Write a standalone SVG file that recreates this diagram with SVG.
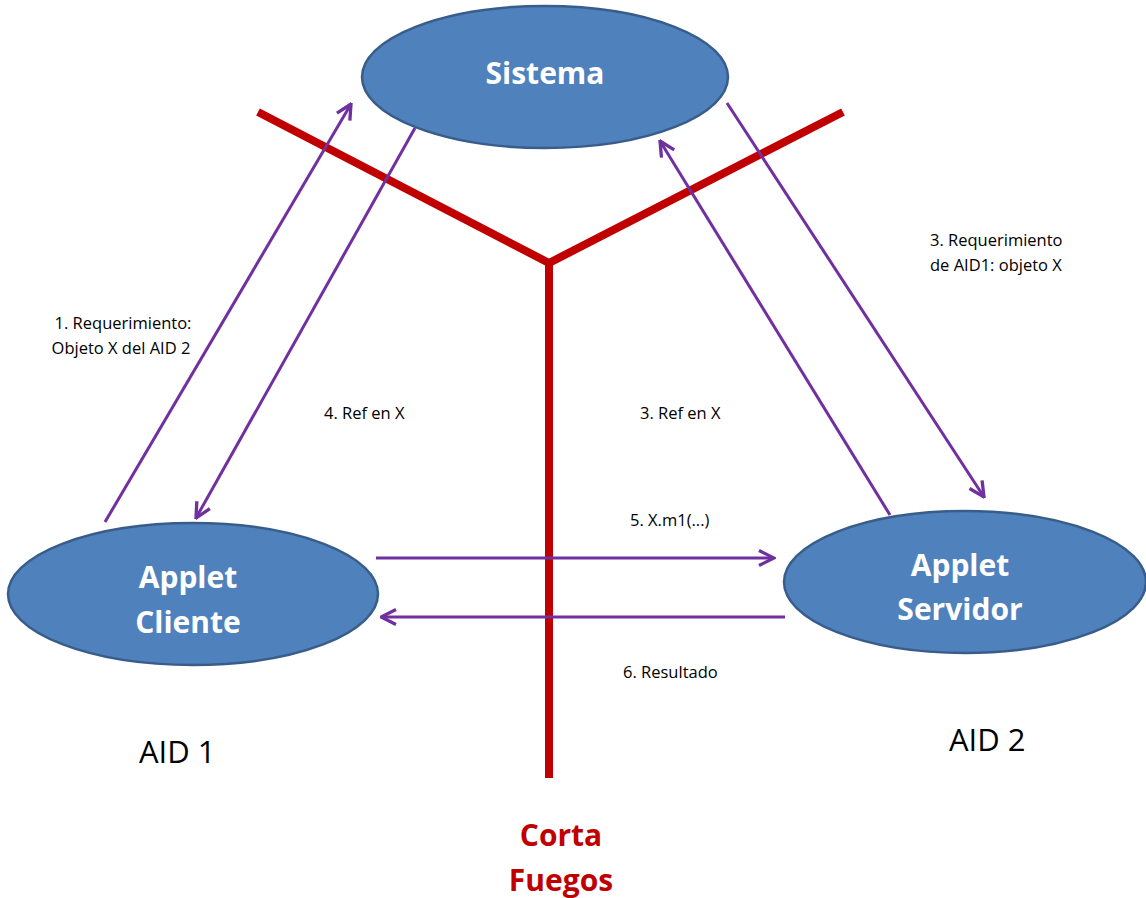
<svg xmlns="http://www.w3.org/2000/svg" width="1146" height="898" viewBox="0 0 1146 898">
  <style>
    .node { fill: #4F81BD; stroke: #385D8A; stroke-width: 2.5; }
    .ntext { font-family: "Open Sans", "Liberation Sans", sans-serif; font-weight: bold; font-size: 30px; fill: #ffffff; text-anchor: middle; }
    .wall { stroke: #C00000; stroke-width: 8; fill: none; }
    .wtext { font-family: "Open Sans", "Liberation Sans", sans-serif; font-weight: bold; font-size: 30px; fill: #C00000; text-anchor: middle; }
    .flow { stroke: #7030A0; stroke-width: 3; fill: none; }
    .label { font-family: "Open Sans", "Liberation Sans", sans-serif; font-size: 16.5px; fill: #000000; }
    .aid { font-family: "Open Sans", "Liberation Sans", sans-serif; font-size: 31px; fill: #000000; }
  </style>
  <defs>
    <marker id="open-arrow" viewBox="0 0 12 12" refX="11" refY="6" markerWidth="6" markerHeight="6" markerUnits="strokeWidth" orient="auto">
      <polyline points="1,1 11,6 1,11" fill="none" stroke="#7030A0" stroke-width="2.2" stroke-linejoin="miter" stroke-linecap="butt"/>
    </marker>
  </defs>

  <rect width="1146" height="898" fill="#ffffff"/>

  <!-- firewall -->
  <g id="firewall">
    <polyline class="wall" points="258,112 549,263 843,112"/>
    <line class="wall" x1="549" y1="263" x2="549" y2="778"/>
    <text class="wtext" x="561" y="846">Corta</text>
    <text class="wtext" x="561" y="891">Fuegos</text>
  </g>

  <!-- connectors -->
  <g id="connectors">
    <line class="flow" x1="105" y1="522" x2="351" y2="104" marker-end="url(#open-arrow)"/>
    <line class="flow" x1="415" y1="128" x2="196" y2="518" marker-end="url(#open-arrow)"/>
    <line class="flow" x1="890" y1="515" x2="660" y2="141" marker-end="url(#open-arrow)"/>
    <line class="flow" x1="727" y1="103" x2="984" y2="497" marker-end="url(#open-arrow)"/>
    <line class="flow" x1="376" y1="558" x2="774" y2="558" marker-end="url(#open-arrow)"/>
    <line class="flow" x1="785" y1="617" x2="381" y2="617" marker-end="url(#open-arrow)"/>

    <text class="label" x="123" y="329" text-anchor="middle">1. Requerimiento:</text>
    <text class="label" x="121" y="354" text-anchor="middle">Objeto X del AID 2</text>
    <text class="label" x="324" y="419">4. Ref en X</text>
    <text class="label" x="640" y="419">3. Ref en X</text>
    <text class="label" x="630" y="526">5. X.m1(...)</text>
    <text class="label" x="930" y="246">3. Requerimiento</text>
    <text class="label" x="930" y="271">de AID1: objeto X</text>
    <text class="label" x="623" y="678">6. Resultado</text>
  </g>

  <!-- nodes -->
  <g id="sistema">
    <ellipse class="node" cx="545" cy="77" rx="183" ry="71"/>
    <text class="ntext" x="545" y="84">Sistema</text>
  </g>
  <g id="applet-cliente">
    <ellipse class="node" cx="193" cy="594" rx="185" ry="71"/>
    <text class="ntext" x="188" y="588">Applet</text>
    <text class="ntext" x="188" y="633">Cliente</text>
  </g>
  <g id="applet-servidor">
    <ellipse class="node" cx="965" cy="582" rx="181" ry="71"/>
    <text class="ntext" x="960" y="576">Applet</text>
    <text class="ntext" x="960" y="620">Servidor</text>
  </g>

  <!-- application identifiers -->
  <g id="aid1">
    <text class="aid" x="139" y="763">AID 1</text>
  </g>
  <g id="aid2">
    <text class="aid" x="949" y="751">AID 2</text>
  </g>
</svg>
